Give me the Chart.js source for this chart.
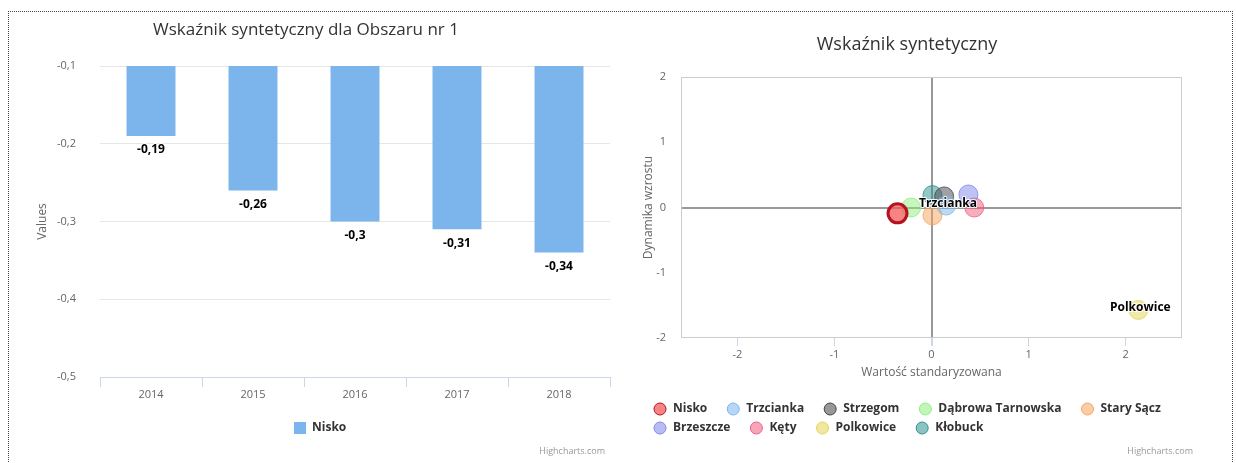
<!DOCTYPE html>
<html>
<head>
<meta charset="utf-8">
<script src="https://cdn.jsdelivr.net/npm/chart.js@4.4.1/dist/chart.umd.min.js"></script>
<style>
  html, body { margin: 0; padding: 0; background: #fff; }
  body { width: 1236px; height: 463px; position: relative; overflow: hidden; }
  #frame { position: absolute; left: 8px; top: 11px; width: 1223px; height: 460px; border: 1px dotted #444; border-bottom: none; }
  #barChart { position: absolute; left: 0; top: 0; }
  #bubbleChart { position: absolute; left: 618px; top: 0; }
</style>
</head>
<body>
<div id="frame"></div>
<canvas id="barChart" width="618" height="463"></canvas>
<canvas id="bubbleChart" width="618" height="463"></canvas>
<script>
const FONT = '"Open Sans", "DejaVu Sans", sans-serif';

// left chart: Nisko by year
const years = ['2014', '2015', '2016', '2017', '2018'];
const niskoValues = [-0.19, -0.26, -0.3, -0.31, -0.34];
const barTicks = [-0.5, -0.4, -0.3, -0.2, -0.1];

// right chart: one bubble per town
const towns = ['Nisko', 'Trzcianka', 'Strzegom', 'Dąbrowa Tarnowska', 'Stary Sącz',
               'Brzeszcze', 'Kęty', 'Polkowice', 'Kłobuck'];
const standardValue = [-0.35, 0.15, 0.13, -0.21, 0.01, 0.38, 0.44, 2.13, 0.01];
const growthValue   = [-0.09, 0.03, 0.17, 0.0, -0.12, 0.2, 0.0, -1.57, 0.19];
const townColors = ['#f45b5b', '#7cb5ec', '#434348', '#90ed7d', '#f7a35c',
                    '#8085e9', '#f15c80', '#e4d354', '#2b908f'];
const labelledTowns = ['Trzcianka', 'Polkowice'];
const bubbleXTicks = [-2, -1, 0, 1, 2];
const bubbleYTicks = [-2, -1, 0, 1, 2];

const fmt = v => String(v).replace('.', ',');

function hexA(hex, a) {
  const n = parseInt(hex.slice(1), 16);
  return `rgba(${(n >> 16) & 255},${(n >> 8) & 255},${n & 255},${a})`;
}

function outlinedText(ctx, text, x, y) {
  ctx.save();
  ctx.font = `bold 12px ${FONT}`;
  ctx.textAlign = 'center';
  ctx.textBaseline = 'middle';
  ctx.lineJoin = 'round';
  ctx.strokeStyle = 'rgba(255,255,255,0.9)';
  ctx.lineWidth = 2;
  ctx.strokeText(text, x, y);
  ctx.fillStyle = '#000';
  ctx.fillText(text, x, y);
  ctx.restore();
}

function credit(ctx, x) {
  ctx.save();
  ctx.font = `9px ${FONT}`;
  ctx.fillStyle = '#999';
  ctx.textAlign = 'right';
  ctx.textBaseline = 'middle';
  ctx.fillText('Highcharts.com', x, 451);
  ctx.restore();
}

// title, legend, credits and value labels for the column chart
const barDecor = {
  id: 'barDecor',
  afterDatasetsDraw(chart) {
    const ctx = chart.ctx;
    const meta = chart.getDatasetMeta(0);
    meta.data.forEach((bar, i) => {
      outlinedText(ctx, fmt(niskoValues[i]), bar.x, bar.y + 14);
    });
  },
  afterDraw(chart) {
    const ctx = chart.ctx;
    ctx.save();
    ctx.fillStyle = '#333';
    ctx.font = `17px ${FONT}`;
    ctx.textAlign = 'center';
    ctx.textBaseline = 'middle';
    ctx.fillText('Wskaźnik syntetyczny dla Obszaru nr 1', 306, 30);

    ctx.fillStyle = '#7cb5ec';
    ctx.fillRect(294, 422, 12, 12);
    ctx.fillStyle = '#333';
    ctx.font = `bold 12px ${FONT}`;
    ctx.textAlign = 'left';
    ctx.fillText(chart.data.datasets[0].label, 312, 428);
    ctx.restore();
    credit(ctx, 605);
  }
};

// frame, title, legend, credits and point labels for the bubble chart
const bubbleDecor = {
  id: 'bubbleDecor',
  beforeDatasetsDraw(chart) {
    const {ctx, chartArea: a} = chart;
    ctx.save();
    ctx.strokeStyle = '#cccccc';
    ctx.lineWidth = 1;
    ctx.strokeRect(a.left + 0.5, a.top + 0.5, a.right - a.left - 1, a.bottom - a.top - 1);
    ctx.restore();
  },
  afterDatasetsDraw(chart) {
    const ctx = chart.ctx;
    chart.data.datasets.forEach((ds, i) => {
      if (!labelledTowns.includes(ds.label)) return;
      const pt = chart.getDatasetMeta(i).data[0];
      outlinedText(ctx, ds.label, pt.x + 2, pt.y - 2);
    });
  },
  afterDraw(chart) {
    const ctx = chart.ctx;
    ctx.save();
    ctx.fillStyle = '#333';
    ctx.font = `18px ${FONT}`;
    ctx.textAlign = 'center';
    ctx.textBaseline = 'middle';
    ctx.fillText('Wskaźnik syntetyczny', 289, 45);

    // legend, wraps like the original into two rows
    ctx.font = `bold 12px ${FONT}`;
    ctx.textAlign = 'left';
    let x = 34, y = 409;
    chart.data.datasets.forEach((ds, i) => {
      const w = 21 + ctx.measureText(ds.label).width;
      if (x + w > 562) { x = 34; y += 19; }
      ctx.beginPath();
      ctx.arc(x + 8, y, 6, 0, Math.PI * 2);
      ctx.fillStyle = hexA(townColors[i], i === 0 ? 0.75 : 0.55);
      ctx.fill();
      ctx.lineWidth = 1;
      ctx.strokeStyle = i === 0 ? '#b3141f' : townColors[i];
      ctx.stroke();
      ctx.fillStyle = '#333';
      ctx.fillText(ds.label, x + 21, y);
      x += w + 18;
    });
    ctx.restore();
    credit(ctx, 575);
  }
};

new Chart(document.getElementById('barChart'), {
  type: 'bar',
  data: {
    labels: years,
    datasets: [{
      label: 'Nisko',
      data: niskoValues,
      backgroundColor: '#7cb5ec',
      barPercentage: 0.48,
      categoryPercentage: 1
    }]
  },
  options: {
    responsive: false,
    animation: false,
    layout: { padding: { top: 66, right: 8, bottom: 0, left: 0 } },
    plugins: { legend: { display: false }, title: { display: false }, tooltip: { enabled: false } },
    scales: {
      x: {
        grid: { offset: true, drawOnChartArea: false, drawTicks: true, tickLength: 10, color: '#ccd6eb' },
        border: { color: '#ccd6eb' },
        ticks: { color: '#666', font: { family: FONT, size: 11 }, padding: 1 },
        afterFit: s => { s.height = 86; }
      },
      y: {
        min: -0.5,
        max: -0.1,
        afterBuildTicks: s => { s.ticks = barTicks.map(v => ({ value: v })); },
        grid: { color: '#e6e6e6', drawTicks: false },
        border: { display: false },
        ticks: { color: '#666', font: { family: FONT, size: 11 }, padding: 24, callback: v => fmt(v) },
        title: { display: true, text: 'Values', color: '#666', font: { family: FONT, size: 12 }, padding: { top: 35, bottom: 0 } },
        afterFit: s => { s.width = 100; }
      }
    }
  },
  plugins: [barDecor]
});

const zeroColor = c => (c.tick && c.tick.value === 0 ? '#999' : 'rgba(0,0,0,0)');
const zeroWidth = c => (c.tick && c.tick.value === 0 ? 2 : 1);

new Chart(document.getElementById('bubbleChart'), {
  type: 'bubble',
  data: {
    datasets: towns.map((town, i) => ({
      label: town,
      data: [{ x: standardValue[i], y: growthValue[i] }],
      backgroundColor: hexA(townColors[i], i === 0 ? 0.75 : 0.5),
      borderColor: i === 0 ? '#b3141f' : hexA(townColors[i], 0.8),
      borderWidth: i === 0 ? 3 : 1,
      radius: 9.5
    }))
  },
  options: {
    responsive: false,
    animation: false,
    layout: { padding: { top: 77, right: 54, bottom: 0, left: 0 } },
    plugins: { legend: { display: false }, title: { display: false }, tooltip: { enabled: false } },
    scales: {
      x: {
        type: 'linear',
        min: -2.58,
        max: 2.58,
        afterBuildTicks: s => { s.ticks = bubbleXTicks.map(v => ({ value: v })); },
        grid: { color: zeroColor, lineWidth: zeroWidth, tickColor: '#ccd6eb', tickLength: 8 },
        border: { display: false },
        ticks: { color: '#666', font: { family: FONT, size: 11 }, padding: 2 },
        title: { display: true, text: 'Wartość standaryzowana', color: '#666', font: { family: FONT, size: 12 }, padding: { top: 0, bottom: 83 } },
        afterFit: s => { s.height = 125; }
      },
      y: {
        type: 'linear',
        min: -2,
        max: 2,
        afterBuildTicks: s => { s.ticks = bubbleYTicks.map(v => ({ value: v })); },
        grid: { color: zeroColor, lineWidth: zeroWidth, drawTicks: false },
        border: { display: false },
        ticks: { color: '#666', font: { family: FONT, size: 11 }, padding: 15 },
        title: { display: true, text: 'Dynamika wzrostu', color: '#666', font: { family: FONT, size: 12 }, padding: { top: 23, bottom: 0 } },
        afterFit: s => { s.width = 63; }
      }
    }
  },
  plugins: [bubbleDecor]
});
</script>
</body>
</html>
